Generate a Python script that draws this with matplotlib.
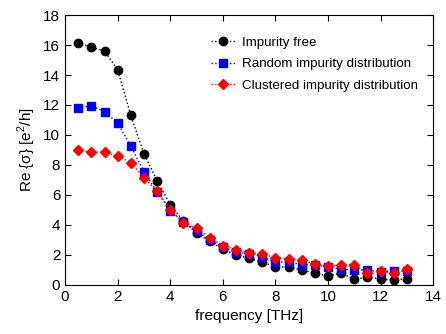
import numpy as np
import matplotlib
matplotlib.use("Agg")
from matplotlib import pyplot as plt

plt.rcParams['font.family'] = ['Liberation Sans', 'DejaVu Sans']
plt.rcParams['mathtext.fontset'] = 'custom'
plt.rcParams['mathtext.rm'] = 'Liberation Sans'

freq = [0.5, 1, 1.5, 2, 2.5, 3, 3.5, 4, 4.5, 5, 5.5, 6, 6.5,
        7, 7.5, 8, 8.5, 9, 9.5, 10, 10.5, 11, 11.5, 12, 12.5, 13]
free = [16.15, 15.85, 15.6, 14.35, 11.3, 8.75, 6.95, 5.35, 4.25, 3.45, 2.9, 2.4, 2.0,
        1.78, 1.5, 1.22, 1.18, 1.0, 0.78, 0.6, 0.78, 0.38, 0.5, 0.4, 0.3, 0.42]
random_ = [11.8, 11.95, 11.55, 10.8, 9.25, 7.55, 6.2, 4.95, 4.22, 3.6, 3.0, 2.5, 2.2,
           2.07, 1.89, 1.5, 1.56, 1.33, 1.33, 1.22, 1.04, 1.0, 1.0, 0.87, 0.96, 0.9]
clustered = [9.0, 8.85, 8.85, 8.6, 8.15, 7.15, 6.25, 5.0, 4.15, 3.8, 3.15, 2.6, 2.35,
             2.16, 2.07, 1.82, 1.76, 1.67, 1.4, 1.27, 1.33, 1.33, 0.82, 0.93, 0.78, 1.04]

fig = plt.figure(figsize=(4.46, 3.34), dpi=100)
ax = fig.add_axes([0.146, 0.147, 0.825, 0.808])

ax.plot(freq, free, ':', color='black', marker='o', ms=6, lw=1, label='Impurity free')
ax.plot(freq, random_, ':', color='blue', marker='s', ms=5.5, lw=1, label='Random impurity distribution')
ax.plot(freq, clustered, ':', color='red', marker='D', ms=5, lw=1, label='Clustered impurity distribution')

ax.set_xlim(0, 14)
ax.set_ylim(0, 18)
ax.set_xticks(range(0, 15, 2))
ax.set_yticks(range(0, 19, 2))
ax.tick_params(direction='in', top=True, right=True, labelsize=11, length=4)
ax.set_xlabel('frequency [THz]', fontsize=11)
ax.set_ylabel('Re {σ} [e$^2$/h]', fontsize=11)
ax.legend(loc='upper right', frameon=False, fontsize=9.6, handlelength=1.8,
          handletextpad=0.5, bbox_to_anchor=(0.992, 0.965), labelspacing=0.7)

fig.savefig('out.png', dpi=100)
